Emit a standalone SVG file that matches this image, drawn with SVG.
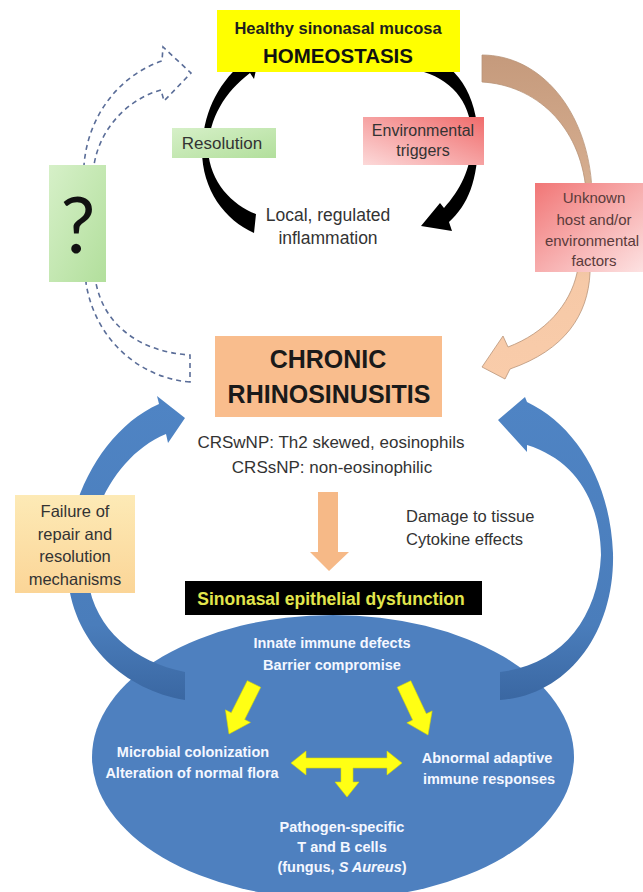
<svg xmlns="http://www.w3.org/2000/svg" width="643" height="892" viewBox="0 0 643 892">
<defs>
<style>
text{font-family:"Liberation Sans",Arial,sans-serif;text-anchor:middle}
.dk{fill:#333}
.b{font-weight:bold}
.w{fill:#f4f7ff;font-weight:bold;font-size:14.5px}
.lbl{font-size:16.5px}
</style>
<linearGradient id="envG" x1="1" y1="0" x2="0" y2="1"><stop offset="0" stop-color="#f06c6c"/><stop offset="1" stop-color="#fcd9d9"/></linearGradient>
<linearGradient id="unkG" x1="0" y1="0" x2="1" y2="1"><stop offset="0" stop-color="#f17676"/><stop offset="1" stop-color="#fde4e4"/></linearGradient>
<linearGradient id="grnG" x1="0" y1="0" x2="1" y2="1"><stop offset="0" stop-color="#d6f0c8"/><stop offset="1" stop-color="#b2df9c"/></linearGradient>
<linearGradient id="failG" x1="0" y1="0" x2="0" y2="1"><stop offset="0" stop-color="#fdeab6"/><stop offset="1" stop-color="#fbd597"/></linearGradient>
<linearGradient id="tanG" gradientUnits="userSpaceOnUse" x1="0" y1="55" x2="0" y2="380"><stop offset="0" stop-color="#c59a7c"/><stop offset="0.4" stop-color="#d6ae90"/><stop offset="0.7" stop-color="#f6c9a7"/><stop offset="1" stop-color="#f9ccaa"/></linearGradient>
<linearGradient id="bluG" gradientUnits="userSpaceOnUse" x1="0" y1="400" x2="0" y2="700"><stop offset="0" stop-color="#4f84c4"/><stop offset="0.75" stop-color="#4a7dbb"/><stop offset="1" stop-color="#3a67a2"/></linearGradient>
</defs>

<g id="connectors">
  <!-- dashed hollow arrow (unknown path back to homeostasis) -->
  <path d="M190,382 C140,378 95,340 86,283 L84,165 C88,115 120,75 162,61 L163,47 L191,73 L164,101 L161,90 C128,99 100,128 94,165 L96,283 C104,325 140,352 190,355 Z" fill="none" stroke="#5a6d98" stroke-width="1.6" stroke-dasharray="5,4"/>
  <!-- black cycle arcs -->
  <path d="M259,56 L237,58 L242,63 C216,86 203,115 202,150 C202,190 225,220 254,233 L256,214 C232,205 210,182 208,150 C209,118 225,92 250,73 L254,79 Z" fill="#000"/>
  <path d="M423,57 C455,60 478,95 478,140 C478,180 468,205 449,222 L452,231 L421,226 L440,203 L444,208 C460,190 471,170 472,140 C472,105 455,82 424,72 Z" fill="#000"/>
  <!-- tan / peach arrow -->
  <path d="M482,55 C540,55 588,110 592,190 L590,273 C588,315 565,350 510,369 L505,379 L482,367 L503,336 L508,347 C545,333 570,305 577,273 L586,190 C580,125 535,85 482,82 Z" fill="url(#tanG)" stroke="#b99479" stroke-width="0.8"/>
  <!-- peach down arrow -->
  <path d="M318,492 L338,492 L338,552 L349,552 L329,571 L310,552 L318,552 Z" fill="#f6b987"/>
</g>

<g id="ellipse">
  <ellipse cx="333" cy="757" rx="241" ry="142" fill="#4e80bf"/>
</g>

<g id="blue-arrows">
  <path d="M185,418 L157,396 L159,404 C100,430 60,510 68,580 C75,645 125,690 185,700 L185,672 C135,662 95,630 88,580 C82,520 115,455 166,434 L168,443 Z" fill="url(#bluG)"/>
  <path d="M498,420 L525,397 L527,402 C575,425 610,480 613,553 C615,630 570,695 500,700 L500,672 C560,665 598,620 601,555 C600,500 575,460 527,445 L527,452 Z" fill="url(#bluG)"/>
</g>

<g id="homeostasis">
  <rect x="217" y="10" width="243" height="62" fill="#ffff00"/>
  <text x="338" y="34" class="b" style="font-size:16.5px;fill:#1e1e1e">Healthy sinonasal mucosa</text>
  <text x="338" y="63" class="b" style="font-size:20.5px;fill:#111">HOMEOSTASIS</text>
</g>

<g id="resolution">
  <rect x="172" y="128" width="104" height="30" fill="url(#grnG)"/>
  <text x="222" y="149" class="dk" style="font-size:17px">Resolution</text>
</g>

<g id="env-triggers">
  <rect x="363" y="117" width="121" height="48" fill="url(#envG)"/>
  <text x="423" y="136" class="dk" style="font-size:16px">Environmental</text>
  <text x="423" y="156" class="dk" style="font-size:16px">triggers</text>
</g>

<g id="local-inflammation">
  <text x="328" y="221" class="dk" style="font-size:17.5px">Local, regulated</text>
  <text x="328" y="244" class="dk" style="font-size:17.5px">inflammation</text>
</g>

<g id="question">
  <rect x="49" y="165" width="57" height="117" fill="url(#grnG)"/>
  <text x="78" y="253" style="font-family:Lato,'Liberation Sans',sans-serif;font-size:78px;fill:#111">?</text>
</g>

<g id="unknown-factors">
  <rect x="535" y="183" width="112" height="89" fill="url(#unkG)"/>
  <text x="594" y="203" style="font-size:15px;fill:#5a3b3b">Unknown</text>
  <text x="594" y="225" style="font-size:15px;fill:#5a3b3b">host and/or</text>
  <text x="592" y="246" style="font-size:15px;fill:#5a3b3b">environmental</text>
  <text x="594" y="266" style="font-size:15px;fill:#5a3b3b">factors</text>
</g>

<g id="crs">
  <rect x="215" y="336" width="227" height="81" fill="#f9bd8d"/>
  <text x="328" y="368" class="b" style="font-size:25px;fill:#1a1a1a">CHRONIC</text>
  <text x="329" y="403" class="b" style="font-size:25px;fill:#1a1a1a">RHINOSINUSITIS</text>
  <text x="331" y="448" class="dk" style="font-size:17px">CRSwNP: Th2 skewed, eosinophils</text>
  <text x="332" y="473" class="dk" style="font-size:17px">CRSsNP: non-eosinophilic</text>
</g>

<g id="damage">
  <text x="406" y="522" class="lbl dk" style="text-anchor:start">Damage to tissue</text>
  <text x="406" y="545" class="lbl dk" style="text-anchor:start">Cytokine effects</text>
</g>

<g id="failure">
  <rect x="15" y="495" width="120" height="98" fill="url(#failG)"/>
  <text x="75" y="517" class="lbl dk">Failure of</text>
  <text x="75" y="540" class="lbl dk">repair and</text>
  <text x="75" y="562" class="lbl dk">resolution</text>
  <text x="75" y="585" class="lbl dk">mechanisms</text>
</g>

<g id="epithelial-dysfunction">
  <rect x="185" y="581" width="297" height="34" fill="#000"/>
  <text x="331" y="605" class="b" style="font-size:17.5px;fill:#e2e64c">Sinonasal epithelial dysfunction</text>
</g>

<g id="innate">
  <text x="332" y="648" class="w">Innate immune defects</text>
  <text x="332" y="670" class="w">Barrier compromise</text>
</g>

<g id="yellow-arrows" fill="#ffff14" stroke="#d8d800" stroke-width="0.6">
  <polygon points="247.3,680.65 260.7,687.35 244.65,719.47 250.46,722.38 229,734 225.42,709.86 231.23,712.77"/>
  <polygon points="397.22,687.19 410.78,680.81 426.27,713.72 432.15,710.95 428,735 406.83,722.87 412.71,720.10"/>
  <path d="M291,763 L306,751 L306,758 L387,758 L387,751 L402,763 L387,775 L387,768 L353,768 L353,782 L359,782 L347,797 L335,782 L341,782 L341,768 L306,768 L306,775 Z"/>
</g>

<g id="microbial">
  <text x="193" y="757" class="w">Microbial colonization</text>
  <text x="192" y="778" class="w">Alteration of normal flora</text>
</g>

<g id="adaptive">
  <text x="487" y="763" class="w">Abnormal adaptive</text>
  <text x="489" y="784" class="w">immune responses</text>
</g>

<g id="pathogen">
  <text x="342" y="832" class="w">Pathogen-specific</text>
  <text x="342" y="852" class="w">T and B cells</text>
  <text x="342" y="872" class="w">(fungus, <tspan font-style="italic">S Aureus</tspan>)</text>
</g>
</svg>
